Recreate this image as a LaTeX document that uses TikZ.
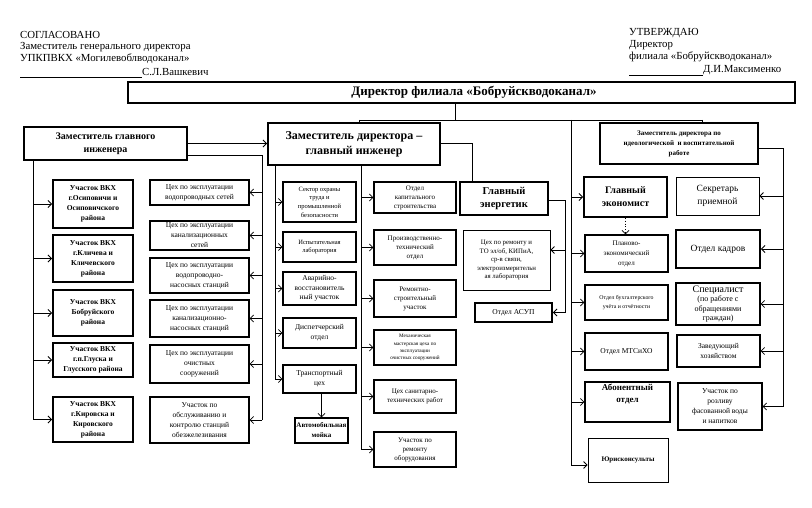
\documentclass[tikz,border=0pt]{standalone}
\usepackage{fontspec}
\setmainfont{Liberation Serif}
\usetikzlibrary{arrows.meta}
\newcommand\mkbox[7]{%
  \node[#1, minimum width={(#5-#3)*1pt}, minimum height={(#6-#4)*1pt}] (#2) at ({(#3+#5)/2},{(#4+#6)/2}) {#7};}
\newcommand\fs[2]{\fontsize{#1}{#2}\selectfont}
\begin{document}
\begin{tikzpicture}[x=1pt,y=-1pt,
  thickbox/.style={draw, line width=1.9pt, align=center, inner sep=1pt},
  medbox/.style={draw, line width=1.2pt, align=center, inner sep=1pt},
  thinbox/.style={draw, line width=0.8pt, align=center, inner sep=1pt},
  conn/.style={line width=0.8pt},
  arr/.style={line width=0.8pt, -{Straight Barb[length=3.5pt,width=7pt]}},
  hdr/.style={anchor=west, inner sep=0pt, font=\fs{10.8}{12}}]
\useasboundingbox (0,0) rectangle (812,508);
\fill[white] (0,0) rectangle (812,508);

% header texts
\node[hdr] (h1) at (20,35) {СОГЛАСОВАНО};
\node[hdr] (h2) at (20,47) {Заместитель генерального директора};
\node[hdr] (h3) at (20,59) {УПКПВКХ «Могилевоблводоканал»};
\node[hdr] (h4) at (142,72) {С.Л.Вашкевич};
\coordinate (u1) at (20,77);
\draw[line width=0.6pt] (u1) -- (u1 -| h4.west);
\node[hdr] (g1) at (629,33) {УТВЕРЖДАЮ};
\node[hdr] (g2) at (629,45) {Директор};
\node[hdr] (g3) at (629,57) {филиала «Бобруйскводоканал»};
\node[hdr] (g4) at (703,70) {Д.И.Максименко};
\coordinate (u2) at (629,75);
\draw[line width=0.6pt] (u2) -- (u2 -| g4.west);

% director
\mkbox{thickbox, font=\bfseries\fs{13}{14}}{dir}{128}{82}{795}{103}{\hspace*{25pt}Директор филиала «Бобруйскводоканал»}

% deputies
\mkbox{thickbox, font=\bfseries\fs{10}{13}}{ZGI}{24}{127}{187}{160}{Заместитель главного\\инженера}
\mkbox{thickbox, font=\bfseries\fs{12}{15}}{ZDGI}{268}{123}{440}{165}{Заместитель директора –\\главный инженер}
\mkbox{thickbox, font=\bfseries\fs{7}{10}}{ZDI}{600}{123}{758}{164}{Заместитель директора по\\идеологической\ \ и воспитательной\\работе}

% left group: участки
\tikzset{ubox/.style={thickbox, font=\bfseries\fs{7.5}{10}}}
\mkbox{ubox}{U1}{53}{180}{133}{228}{Участок ВКХ\\г.Осиповичи и\\Осиповичского\\района}
\mkbox{ubox}{U2}{53}{235}{133}{282}{Участок ВКХ\\г.Кличева и\\Кличевского\\района}
\mkbox{ubox}{U3}{53}{290}{133}{336}{Участок ВКХ\\Бобруйского\\района}
\mkbox{ubox}{U4}{53}{343}{133}{377}{Участок ВКХ\\г.п.Глуска и\\Глусского района}
\mkbox{ubox}{U5}{53}{397}{133}{442}{Участок ВКХ\\г.Кировска и\\Кировского\\района}

% left group: цеха
\tikzset{cbox/.style={medbox, font=\fs{7.5}{10}}}
\mkbox{cbox}{C1}{150}{180}{249}{205}{Цех по эксплуатации\\водопроводных сетей}
\mkbox{cbox}{C2}{150}{221}{249}{250}{Цех по эксплуатации\\канализационных\\сетей}
\mkbox{cbox}{C3}{150}{258}{249}{293}{Цех по эксплуатации\\водопроводно-\\насосных станций}
\mkbox{cbox}{C4}{150}{300}{249}{337}{Цех по эксплуатации\\канализационно-\\насосных станций}
\mkbox{cbox}{C5}{150}{345}{249}{383}{Цех по эксплуатации\\очистных\\сооружений}
\mkbox{cbox}{C6}{150}{397}{249}{443}{Участок по\\обслуживанию и\\контролю станций\\обезжелезивания}

% middle group
\tikzset{sbox/.style={medbox, font=\fs{6.5}{8.7}}}
\mkbox{sbox}{S1}{283}{182}{356}{222}{Сектор охраны\\труда и\\промышленной\\безопасности}
\mkbox{sbox}{S2}{283}{232}{356}{262}{Испытательная\\лаборатория}
\mkbox{medbox, font=\fs{7.5}{9.5}}{S3}{283}{272}{356}{305}{Аварийно-\\восстановитель\\ный участок}
\mkbox{medbox, font=\fs{7.5}{10}}{S4}{283}{318}{356}{348}{Диспетчерский\\отдел}
\mkbox{medbox, font=\fs{7.5}{10}}{S5}{283}{365}{356}{393}{Транспортный\\цех}
\mkbox{medbox, font=\bfseries\fs{7}{10}}{S6}{295}{418}{348}{443}{Автомобильная\\мойка}

\tikzset{rbox/.style={medbox, font=\fs{7}{9}}}
\mkbox{rbox}{R1}{374}{182}{456}{213}{Отдел\\капитального\\строительства}
\mkbox{rbox}{R2}{374}{230}{456}{265}{Производственно-\\технический\\отдел}
\mkbox{rbox}{R3}{374}{280}{456}{317}{Ремонтно-\\строительный\\участок}
\mkbox{medbox, font=\fs{5.2}{7.2}}{R4}{374}{330}{456}{365}{Механическая\\мастерская цеха по\\эксплуатации\\очистных сооружений}
\mkbox{rbox}{R5}{374}{380}{456}{413}{Цех санитарно-\\технических работ}
\mkbox{rbox}{R6}{374}{432}{456}{467}{Участок по\\ремонту\\оборудования}

% chief power engineer
\mkbox{thickbox, font=\bfseries\fs{10.5}{13}}{GE}{460}{182}{548}{215}{Главный\\энергетик}
\mkbox{thinbox, font=\fs{6.8}{8.5}}{CR}{463}{230}{550}{290}{Цех по ремонту и\\ТО эл/об, КИПиА,\\ср-в связи,\\электроизмерительн\\ая лаборатория}
\mkbox{thickbox, font=\fs{7.5}{9}}{ASUP}{475}{303}{552}{322}{Отдел АСУП}

% right group
\mkbox{thickbox, font=\bfseries\fs{10}{13}}{GEc}{584}{177}{667}{217}{Главный\\экономист}
\mkbox{thinbox, font=\fs{9.5}{13}}{SEC}{676}{177}{759}{215}{Секретарь\\приемной}
\mkbox{medbox, font=\fs{7}{10}}{PE}{585}{235}{668}{272}{Планово-\\экономический\\отдел}
\mkbox{thickbox, font=\fs{9.5}{12}}{OK}{676}{230}{760}{268}{Отдел кадров}
\mkbox{medbox, font=\fs{5.8}{9}}{BU}{585}{285}{668}{320}{Отдел бухгалтерского\\учёта и отчётности}
\mkbox{medbox, font=\fs{8}{9.5}}{SP}{676}{283}{760}{325}{{\fs{10}{11}Специалист}\\(по работе с\\обращениями\\граждан)}
\mkbox{medbox, font=\fs{7.5}{10}}{MT}{585}{333}{668}{370}{Отдел МТСиХО}
\mkbox{medbox, font=\fs{7.5}{10}}{ZX}{677}{335}{760}{367}{Заведующий\\хозяйством}
\mkbox{medbox, font=\bfseries\fs{9}{12}}{AB}{585}{382}{670}{422}{Абонентный\\отдел\\[6pt]}
\mkbox{medbox, font=\fs{7.5}{10}}{RZ}{678}{383}{762}{430}{Участок по\\розливу\\фасованной воды\\и напитков}
\mkbox{thinbox, font=\bfseries\fs{7}{9}}{JU}{588}{438}{668}{482}{Юрисконсульты}

% ---- connectors ----
\coordinate (t1) at (455,120);
\coordinate (hl) at (359,120);
\coordinate (hr) at (702,120);
\coordinate (jv) at (571,120);
\coordinate (jb) at (571,465);
\draw[conn] (dir.south -| t1) -- (t1);
\draw[conn] (hl) -- (hr);
\draw[conn] (hl) -- (ZDGI.north -| hl);
\draw[conn] (hr) -- (ZDI.north -| hr);
\draw[conn] (jv) -- (jb);
\draw[arr] (jb) -- (JU.west |- jb);
\foreach \n in {GEc,PE,BU,MT,AB} \draw[arr] (jv |- \n.west) -- (\n.west);

% left deputy
\draw[arr] (ZGI.east) -- (ZDGI.west |- ZGI.east);
\coordinate (lv) at (33,419.5);
\draw[conn] (ZGI.south -| lv) -- (lv);
\foreach \n in {U1,U2,U3,U4,U5} \draw[arr] (lv |- \n.west) -- (\n.west);
\coordinate (rv1) at (262,155);
\coordinate (rv2) at (262,420);
\draw[conn] (ZGI.east |- rv1) -- (rv1) -- (rv2);
\foreach \n in {C1,C2,C3,C4,C5,C6} \draw[arr] (rv1 |- \n.east) -- (\n.east);

% main engineer
\coordinate (mv1) at (275,379);
\draw[conn] (ZDGI.south -| mv1) -- (mv1);
\foreach \n in {S1,S2,S3,S4,S5} \draw[arr] (mv1 |- \n.west) -- (\n.west);
\draw[arr] (S5.south -| S6.north) -- (S6.north);
\coordinate (mv2) at (361,449.5);
\draw[conn] (ZDGI.south -| mv2) -- (mv2);
\foreach \n in {R1,R2,R3,R4,R5,R6} \draw[arr] (mv2 |- \n.west) -- (\n.west);
\coordinate (ge1) at (472,143);
\draw[conn] (ZDGI.east |- ge1) -- (ge1) -- (GE.north -| ge1);
\coordinate (ge2) at (565,200);
\coordinate (ge3) at (565,312.5);
\draw[conn] (GE.east |- ge2) -- (ge2) -- (ge3);
\coordinate (ge4) at (565,250);
\draw[arr] (ge4) -- (CR.east |- ge4);
\draw[arr] (ge3) -- (ASUP.east);

% ideology deputy
\coordinate (iv1) at (783,148);
\coordinate (iv2) at (783,406.5);
\draw[conn] (ZDI.east |- iv1) -- (iv1) -- (iv2);
\foreach \n in {SEC,OK,SP,ZX,RZ} \draw[arr] (iv1 |- \n.east) -- (\n.east);

% chief economist
\draw[arr, dotted] (GEc.south) -- (PE.north -| GEc.south);
\end{tikzpicture}
\end{document}
